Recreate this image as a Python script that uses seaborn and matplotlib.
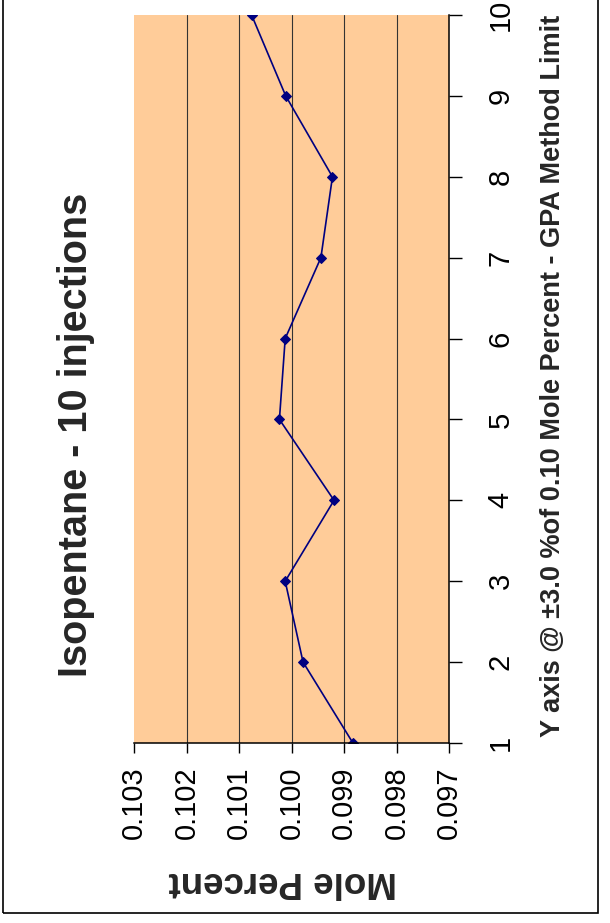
import matplotlib
matplotlib.use("Agg")
import matplotlib.pyplot as plt
import seaborn as sns
import pandas as pd
from matplotlib.patches import Rectangle

# Injection number and measured isopentane concentration (mole percent)
injections = [1, 2, 3, 4, 5, 6, 7, 8, 9, 10]
mole_percent = [0.09883, 0.09978, 0.10012, 0.09919, 0.10023,
                0.10012, 0.09944, 0.09922, 0.10011, 0.10076]
mole_ticks = [0.103, 0.102, 0.101, 0.100, 0.099, 0.098, 0.097]
mole_tick_labels = ["0.103", "0.102", "0.101", "0.100", "0.099", "0.098", "0.097"]

title = "Isopentane - 10 injections"
injection_label = "Y axis @ \u00b13.0 %of 0.10 Mole Percent - GPA Method Limit"
value_label = "Mole Percent"

sns.set_theme(style="white")
plt.rcParams["font.family"] = ["Liberation Sans", "DejaVu Sans"]

df = pd.DataFrame({"injection": injections, "mole": mole_percent})

W, H = 610, 923
fig = plt.figure(figsize=(W / 100, H / 100), dpi=100)
fig.patch.set_facecolor("white")

# plot area in pixel terms: x 134..449, y 15..743
ax = fig.add_axes([134 / W, (H - 743) / H, (449 - 134) / W, (743 - 15) / H])
ax.set_facecolor("#FFCC99")

sns.lineplot(data=df, x="mole", y="injection", orient="y", ax=ax,
             color="#000080", linewidth=1.2, marker="D", markersize=5.5,
             markeredgecolor="#000080", markerfacecolor="#000080")

# value axis runs horizontally, high values on the left
ax.set_xlim(0.103, 0.097)
ax.set_xticks(mole_ticks)
ax.set_xticklabels(mole_tick_labels, rotation=90, fontsize=21)
ax.set_ylim(1, 10)
ax.set_yticks(injections)
ax.yaxis.tick_right()
ax.set_yticklabels([str(i) for i in injections], rotation=90, fontsize=21, va="center")
ax.set_xlabel("")
ax.set_ylabel("")

for x in mole_ticks[1:-1]:
    ax.axvline(x, color="#333333", linewidth=0.8, zorder=0.5)

for s in ["top", "left"]:
    ax.spines[s].set_visible(False)
for s in ["bottom", "right"]:
    ax.spines[s].set_visible(True)
    ax.spines[s].set_color("black")
    ax.spines[s].set_linewidth(1.1)

ax.tick_params(axis="x", bottom=True, direction="out", length=7, width=1,
               color="black", pad=10, labelcolor="black")
ax.tick_params(axis="y", right=True, left=False, direction="out", length=9,
               width=1, color="black", pad=18, labelcolor="black")

fig.text(76 / W, (H - 435) / H, title, rotation=90, fontsize=28.5,
         fontweight="bold", ha="center", va="center")
fig.text(553 / W, (H - 376) / H, injection_label, rotation=90, fontsize=19.5,
         fontweight="bold", ha="center", va="center")
fig.text(283 / W, (H - 882) / H, value_label, rotation=180, fontsize=26.5,
         fontweight="bold", ha="center", va="center")

# outer frame
fig.patches.append(Rectangle((3 / W, (H - 913) / H), (598 - 3) / W, 913 / H + 0.01,
                             transform=fig.transFigure, fill=False,
                             edgecolor="black", linewidth=1.2))

fig.savefig("out.png", dpi=100)
